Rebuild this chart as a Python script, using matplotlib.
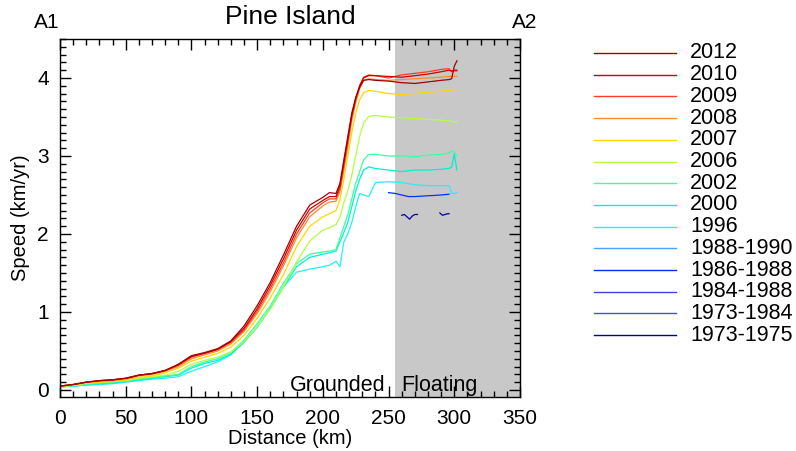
import matplotlib
matplotlib.use("Agg")
import numpy as np
import matplotlib.pyplot as plt
from matplotlib.lines import Line2D
from matplotlib.ticker import MultipleLocator

plt.rcParams['font.family'] = ['Liberation Sans', 'DejaVu Sans']

# distance along flowline (km)
dist = [0, 10, 20, 30, 40, 50, 60, 70, 80, 90, 100, 110, 120, 130, 140, 150, 160, 170,
        180, 190, 200, 205, 210, 213, 216, 219, 222, 225, 228, 231, 235, 240, 250, 260,
        270, 280, 290, 296, 298, 300, 302]

v2012 = [0.05, 0.07, 0.10, 0.12, 0.13, 0.15, 0.19, 0.21, 0.25, 0.33, 0.44, 0.48, 0.53, 0.63,
         0.82, 1.08, 1.38, 1.73, 2.10, 2.37, 2.47, 2.53, 2.52, 2.65, 2.95, 3.25, 3.55, 3.75,
         3.88, 3.97, 3.98, 3.97, 3.96, 3.94, 3.93, 3.95, 3.97, 3.98, 3.99, 4.15, 4.22]
v2010 = [0.05, 0.07, 0.10, 0.12, 0.13, 0.15, 0.19, 0.21, 0.25, 0.32, 0.43, 0.47, 0.52, 0.62,
         0.79, 1.04, 1.34, 1.68, 2.05, 2.32, 2.43, 2.48, 2.48, 2.62, 2.92, 3.22, 3.52, 3.74,
         3.90, 4.00, 4.03, 4.03, 4.02, 4.01, 4.03, 4.05, 4.08, 4.10, 4.09, 4.10, 4.10]
v2009 = [0.05, 0.07, 0.10, 0.12, 0.13, 0.15, 0.19, 0.21, 0.25, 0.32, 0.42, 0.47, 0.52, 0.61,
         0.77, 1.01, 1.30, 1.63, 2.00, 2.27, 2.40, 2.45, 2.45, 2.58, 2.88, 3.18, 3.50, 3.72,
         3.90, 4.01, 4.04, 4.03, 4.00, 4.04, 4.06, 4.08, 4.11, 4.12, 4.08, 4.09, 4.09]
v2008 = [0.05, 0.07, 0.10, 0.11, 0.12, 0.14, 0.18, 0.20, 0.24, 0.30, 0.40, 0.45, 0.50, 0.59,
         0.75, 0.98, 1.26, 1.59, 1.95, 2.22, 2.36, 2.41, 2.42, 2.54, 2.82, 3.12, 3.45, 3.68,
         3.86, 3.97, 3.99, 3.98, 3.97, 3.98, 3.99, 4.00, 4.01, 4.02, 4.02, 4.02, 4.02]
v2007 = [0.05, 0.06, 0.09, 0.10, 0.11, 0.13, 0.16, 0.18, 0.22, 0.28, 0.37, 0.42, 0.47, 0.55,
         0.70, 0.92, 1.18, 1.48, 1.84, 2.10, 2.22, 2.26, 2.30, 2.44, 2.70, 3.00, 3.30, 3.55,
         3.72, 3.81, 3.84, 3.83, 3.80, 3.79, 3.80, 3.82, 3.83, 3.84, 3.85, 3.85, 3.85]
v2006 = [0.05, 0.06, 0.09, 0.10, 0.11, 0.12, 0.15, 0.17, 0.19, 0.24, 0.33, 0.38, 0.42, 0.49,
         0.62, 0.81, 1.04, 1.32, 1.64, 1.91, 2.05, 2.08, 2.12, 2.22, 2.40, 2.55, 2.75, 3.00,
         3.25, 3.42, 3.51, 3.52, 3.50, 3.49, 3.48, 3.47, 3.46, 3.45, 3.44, 3.44, 3.44]
v2002 = [0.04, 0.05, 0.07, 0.09, 0.10, 0.12, 0.14, 0.16, 0.18, 0.20, 0.30, 0.36, 0.40, 0.48,
         0.64, 0.85, 1.08, 1.37, 1.62, 1.74, 1.77, 1.78, 1.80, 1.95, 2.10, 2.25, 2.45, 2.65,
         2.80, 2.95, 3.02, 3.02, 3.00, 3.00, 2.99, 3.01, 3.02, 3.04, 3.06, 3.05, 3.00]
v2000 = [0.04, 0.05, 0.07, 0.08, 0.09, 0.11, 0.13, 0.15, 0.17, 0.19, 0.28, 0.34, 0.38, 0.46,
         0.61, 0.81, 1.04, 1.32, 1.58, 1.70, 1.74, 1.76, 1.78, 1.90, 2.02, 2.15, 2.35, 2.55,
         2.70, 2.82, 2.86, 2.84, 2.82, 2.80, 2.82, 2.82, 2.83, 2.84, 2.86, 3.03, 2.82]
v1996 = [0.04, 0.05, 0.06, 0.07, 0.08, 0.10, 0.12, 0.14, 0.15, 0.17, 0.24, 0.30, 0.36, 0.45,
         0.62, 0.80, 1.05, 1.32, 1.51, 1.55, 1.58, 1.60, 1.65, 1.58, 1.90, 2.00, 2.15, 2.35,
         2.52, 2.50, 2.48, 2.66, 2.67, 2.66, 2.63, 2.62, 2.62, 2.62, 2.52, 2.52, 2.53]

d1986 = [250, 255, 260, 265, 270, 280, 290, 296]
v1986 = [2.53, 2.52, 2.50, 2.48, 2.48, 2.49, 2.50, 2.51]

d1973a = [260, 262, 264, 266, 268, 270, 272]
v1973a = [2.24, 2.25, 2.22, 2.19, 2.23, 2.25, 2.25]
d1973b = [289, 291, 293, 295, 296]
v1973b = [2.27, 2.24, 2.25, 2.26, 2.26]

labels = ['2012', '2010', '2009', '2008', '2007', '2006', '2002', '2000', '1996',
          '1988-1990', '1986-1988', '1984-1988', '1973-1984', '1973-1975']
colors = ['#a00000', '#d00000', '#ff3c28', '#ff8c28', '#ffd700', '#b4ff3c', '#3cffa0',
          '#00f0d0', '#20f0ff', '#4ca0ff', '#0030ff', '#4040e0', '#5050c0', '#0000a0']

fig = plt.figure(figsize=(7.96, 4.51), dpi=100)
ax = fig.add_axes([60/796, 1-397/451, 460/796, 358/451])

ax.axvspan(255, 350, color='#c8c8c8', lw=0, zorder=0)

series = {
    '2012': [(dist, v2012)], '2010': [(dist, v2010)], '2009': [(dist, v2009)],
    '2008': [(dist, v2008)], '2007': [(dist, v2007)], '2006': [(dist, v2006)],
    '2002': [(dist, v2002)], '2000': [(dist, v2000)], '1996': [(dist, v1996)],
    '1988-1990': [], '1986-1988': [(d1986, v1986)], '1984-1988': [], '1973-1984': [],
    '1973-1975': [(d1973a, v1973a), (d1973b, v1973b)],
}

# draw oldest first so recent years sit on top
for lab, col in reversed(list(zip(labels, colors))):
    for xs, ys in series[lab]:
        ax.plot(xs, ys, color=col, lw=0.9)

ax.set_xlim(0, 350)
ax.set_ylim(-0.09, 4.5)
ax.xaxis.set_major_locator(MultipleLocator(50))
ax.xaxis.set_minor_locator(MultipleLocator(10))
ax.yaxis.set_major_locator(MultipleLocator(1))
ax.yaxis.set_minor_locator(MultipleLocator(0.1))
ax.tick_params(which='both', direction='in', top=True, right=True, labelsize=15, width=1)
ax.tick_params(which='major', length=8)
ax.tick_params(axis='x', which='both', pad=9)
ax.tick_params(axis='y', which='both', pad=8)
ax.tick_params(which='minor', length=4)
for s in ax.spines.values():
    s.set_linewidth(1)

ax.set_xlabel('Distance (km)', fontsize=14.5, labelpad=0)
ax.set_ylabel('Speed (km/yr)', fontsize=14.5, labelpad=5)
ax.set_title('Pine Island', fontsize=19, pad=11)
ax.text(-0.028, 1.02, 'A1', transform=ax.transAxes, fontsize=15, ha='center', va='bottom')
ax.text(1.01, 1.02, 'A2', transform=ax.transAxes, fontsize=15, ha='center', va='bottom')
ax.text(248, -0.01, 'Grounded', fontsize=15.5, ha='right', va='baseline')
ax.text(260, -0.01, 'Floating', fontsize=15.5, ha='left', va='baseline')

# legend drawn by hand to match the tight row spacing
for i, (lab, col) in enumerate(zip(labels, colors)):
    y = 1 - (53 + i*21.7)/451
    fig.add_artist(Line2D([594/796, 676/796], [y, y], color=col, lw=1))
    fig.text(690/796, y, lab, fontsize=15.5, va='center', ha='left')

fig.savefig('out.png', dpi=100)
